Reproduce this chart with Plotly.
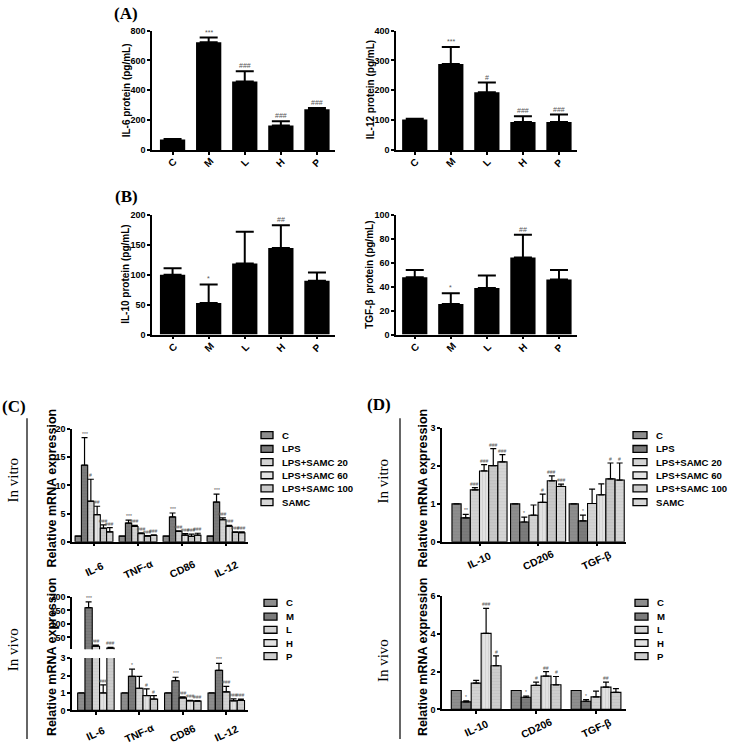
import plotly.graph_objects as go

W, H = 729, 744

# ---------------- data ----------------
prot_cats = ["C", "M", "L", "H", "P"]

il6_mean = [71, 723, 460, 164, 274]
il6_err = [3, 31, 68, 28, 7]
il6_sig = ["", "***", "###", "###", "###"]

il12_mean = [102, 288, 194, 94, 94]
il12_err = [3, 57, 32, 19, 25]
il12_sig = ["", "***", "#", "###", "###"]

il10_mean = [100, 53, 119, 145, 90]
il10_err = [11, 31, 53, 38, 14]
il10_sig = ["", "*", "", "##", ""]

tgfb_mean = [48, 25.5, 39, 64.5, 46]
tgfb_err = [6, 9, 10.5, 19, 8]
tgfb_sig = ["", "*", "", "##", ""]

vitro_groups = ["C", "LPS", "LPS+SAMC 20", "LPS+SAMC 60", "LPS+SAMC 100", "SAMC"]
vivo_groups = ["C", "M", "L", "H", "P"]

c_genes = ["IL-6", "TNF-α", "CD86", "IL-12"]
c_vitro_mean = [
    [1, 1, 1, 1],
    [13.6, 3.3, 4.4, 7.05],
    [7.2, 2.7, 1.85, 3.9],
    [4.8, 1.45, 1.15, 2.75],
    [2.4, 1.0, 0.95, 1.65],
    [1.75, 1.1, 1.15, 1.6],
]
c_vitro_err = [
    [0, 0, 0, 0],
    [4.9, 0.55, 0.7, 1.4],
    [3.9, 0.2, 0.08, 0.35],
    [1.5, 0.1, 0.3, 0.15],
    [0.6, 0.1, 0.4, 0.12],
    [0.75, 0.1, 0.35, 0.15],
]
c_vitro_sig = [
    ["", "", "", ""],
    ["***", "***", "***", "***"],
    ["#", "###", "###", "###"],
    ["##", "###", "###", "###"],
    ["###", "###", "###", "###"],
    ["###", "###", "###", "###"],
]

c_vivo_mean = [
    [1, 1, 1, 1],
    [160, 1.95, 1.7, 2.3],
    [17, 1.27, 0.72, 1.06],
    [1.0, 0.85, 0.55, 0.55],
    [10, 0.65, 0.53, 0.57],
]
c_vivo_err = [
    [0, 0, 0, 0],
    [22, 0.42, 0.2, 0.4],
    [4, 0.68, 0.06, 0.32],
    [0.46, 0.38, 0.03, 0.11],
    [3, 0.2, 0.03, 0.08],
]
c_vivo_sig = [
    ["", "", "", ""],
    ["***", "*", "***", "***"],
    ["###", "", "###", "###"],
    ["###", "#", "###", "###"],
    ["###", "#", "###", "###"],
]

d_genes = ["IL-10", "CD206", "TGF-β"]
d_vitro_mean = [
    [1, 1, 1],
    [0.63, 0.52, 0.55],
    [1.37, 0.7, 1.01],
    [1.87, 1.04, 1.24],
    [2.01, 1.61, 1.66],
    [2.11, 1.46, 1.63],
]
d_vitro_err = [
    [0, 0, 0],
    [0.09, 0.13, 0.15],
    [0.06, 0.27, 0.38],
    [0.17, 0.22, 0.29],
    [0.45, 0.13, 0.42],
    [0.19, 0.06, 0.45],
]
d_vitro_sig = [
    ["", "", ""],
    ["**", "*", "*"],
    ["###", "", ""],
    ["###", "#", ""],
    ["###", "###", "#"],
    ["###", "###", "#"],
]

d_vivo_mean = [
    [1, 1, 1],
    [0.4, 0.64, 0.43],
    [1.39, 1.27, 0.66],
    [4.02, 1.76, 1.18],
    [2.31, 1.3, 0.9],
]
d_vivo_err = [
    [0, 0, 0],
    [0.05, 0.07, 0.09],
    [0.14, 0.17, 0.31],
    [1.32, 0.24, 0.26],
    [0.52, 0.44, 0.2],
]
d_vivo_sig = [
    ["", "", ""],
    ["*", "*", "*"],
    ["", "#", ""],
    ["###", "##", "##"],
    ["#", "#", ""],
]

BREAK = 6  # lower limit of the upper segment of the broken in-vivo axis (panel C)

# ---------------- helpers ----------------
def dx(a, b):
    return [a / W, b / W]

def dy(top, bot):
    return [1 - bot / H, 1 - top / H]

def px(x):
    return x / W

def py(y):
    return 1 - y / H

FONT = "Liberation Sans"
SERIF = "Liberation Serif"
SIGCOL = "#555555"

fig = go.Figure()
annotations = []
shapes = []

def axis_common(size=10):
    return dict(showline=True, linecolor="black", linewidth=1.5, ticks="outside",
                ticklen=3, tickwidth=1.5, tickcolor="black", showgrid=False,
                zeroline=False, tickfont=dict(family=FONT, size=size, color="black", weight="bold"))

def ptext(x, y, text, font, angle=0, xanchor="center"):
    annotations.append(dict(x=px(x), y=py(y), xref="paper", yref="paper", text=text,
                            textangle=angle, showarrow=False, xanchor=xanchor,
                            yanchor="middle", font=font))

layout_axes = {}

# ---------------- protein panels (A, B) ----------------
prot_panels = [
    (il6_mean, il6_err, il6_sig, "IL-6 protein (pg/mL)", 1, (152, 335), (26, 147), 800, 200, -0.57, 126, 160),
    (il12_mean, il12_err, il12_sig, "IL-12 protein (pg/mL)", 2, (396, 577), (26, 147), 400, 100, -0.52, 370, 160),
    (il10_mean, il10_err, il10_sig, "IL-10 protein (pg/mL)", 3, (152, 335), (213, 334), 200, 50, -0.57, 126, 347),
    (tgfb_mean, tgfb_err, tgfb_sig, "TGF-β  protein (pg/mL)", 4, (396, 577), (213, 334), 100, 20, -0.52, 370, 347),
]
for mean, err, sig, title, n, xd, yd, ymax, dt, x0, tx, ly in prot_panels:
    xs = list(range(len(prot_cats)))
    fig.add_trace(go.Bar(
        x=xs, y=mean, width=0.7, marker=dict(color="black", line=dict(width=0)),
        error_y=dict(type="data", array=err, arrayminus=[0] * len(err), symmetric=False,
                     color="black", thickness=2, width=9),
        xaxis=f"x{n}", yaxis=f"y{n}", showlegend=False, hoverinfo="skip"))
    xa = axis_common(9)
    xa.update(domain=dx(*xd), range=[x0, 4.5], tickvals=xs, showticklabels=False,
              anchor=f"y{n}")
    ya = axis_common(9)
    ya.update(domain=dy(*yd), range=[0, ymax], dtick=dt, anchor=f"x{n}")
    layout_axes[f"xaxis{n}"] = xa
    layout_axes[f"yaxis{n}"] = ya
    for i, c in enumerate(prot_cats):
        annotations.append(dict(x=i, xref=f"x{n}", y=py(ly), yref="paper", text=c,
                                textangle=-45, showarrow=False, xanchor="center",
                                yanchor="middle",
                                font=dict(family=FONT, size=10, color="black", weight="bold")))
        if sig[i]:
            annotations.append(dict(x=i, xref=f"x{n}", y=mean[i] + err[i], yref=f"y{n}",
                                    text=sig[i], showarrow=False, xanchor="center",
                                    yanchor="bottom", yshift=0,
                                    font=dict(family=FONT, size=7, color=SIGCOL)))
    ptext(tx, (yd[0] + yd[1]) / 2, title,
          dict(family=FONT, size=10, color="black", weight="bold"), angle=-90)

# ---------------- mRNA panels (C, D) ----------------
vitro_fill = ["#8e8e8e", "#7c7c7c", "#d3d3d3", "#e2e2e2", "#c9c9c9", "#d6d6d6"]
vitro_fg = ["#7a7a7a", "#6a6a6a", "#bdbdbd", "#b8b8b8", "#b3b3b3", "#c0c0c0"]
vitro_shape = ["-", "-", "-", "|", "-", "-"]
vivo_fill = ["#8e8e8e", "#7c7c7c", "#d3d3d3", "#e2e2e2", "#cdcdcd"]
vivo_fg = ["#7a7a7a", "#6a6a6a", "#bdbdbd", "#b8b8b8", "#b8b8b8"]
vivo_shape = ["-", "-", "-", "|", "-"]


def add_group_bars(means, errs, sigs, fills, fgs, shapes_p, gw, xaxis, yaxes, cap=3):
    ns = len(means)
    bw = gw / ns
    for i in range(ns):
        off = -gw / 2 + (i + 0.5) * bw
        xs = [k + off for k in range(len(means[i]))]
        for j, ya in enumerate(yaxes):
            if j == 0:
                yv, ev = means[i], errs[i]
            else:  # upper segment of a broken axis: only bars reaching above the break
                yv = [v if v > BREAK else None for v in means[i]]
                ev = [e if v > BREAK else 0 for v, e in zip(means[i], errs[i])]
            fig.add_trace(go.Bar(
                x=xs, y=yv, width=bw,
                marker=dict(color=fills[i], line=dict(color="black", width=1.1),
                            pattern=dict(shape=shapes_p[i], fgcolor=fgs[i], size=3, solidity=0.25)),
                error_y=dict(type="data", array=ev, arrayminus=[0] * len(ev),
                             symmetric=False, color="black", thickness=1.2, width=cap),
                xaxis=xaxis, yaxis=ya, showlegend=False, hoverinfo="skip"))
        for k, s in enumerate(sigs[i]):
            if s:
                top = means[i][k] + errs[i][k]
                ya = yaxes[0]
                if len(yaxes) > 1 and top > BREAK:
                    ya = yaxes[1]
                annotations.append(dict(x=xs[k], xref=xaxis, y=top, yref=ya, text=s,
                                        showarrow=False, xanchor="center", yanchor="bottom",
                                        yshift=-1,
                                        font=dict(family=FONT, size=5, color=SIGCOL)))


# C in vitro
add_group_bars(c_vitro_mean, c_vitro_err, c_vitro_sig, vitro_fill, vitro_fg, vitro_shape,
               0.86, "x5", ["y5"])
xa = axis_common(9)
xa.update(domain=dx(72, 248), range=[-0.5, 3.5], tickvals=list(range(4)),
          showticklabels=False, anchor="y5")
ya = axis_common(9)
ya.update(domain=dy(430, 544), range=[0, 20], dtick=5, anchor="x5")
layout_axes["xaxis5"] = xa
layout_axes["yaxis5"] = ya

# C in vivo (broken axis)
add_group_bars(c_vivo_mean, c_vivo_err, c_vivo_sig, vivo_fill, vivo_fg, vivo_shape,
               0.84, "x6", ["y6", "y7"])
xa = axis_common(9)
xa.update(domain=dx(72, 248), range=[-0.55, 3.5], tickvals=list(range(4)),
          showticklabels=False, anchor="y6")
ya = axis_common(9)
ya.update(domain=dy(662, 715), range=[0, 3], dtick=1, anchor="x6")
ya7 = axis_common(9)
ya7.update(domain=dy(600, 653), range=[BREAK, 200], tickvals=[50, 100, 150, 200], anchor="x6")
layout_axes["xaxis6"] = xa
layout_axes["yaxis6"] = ya
layout_axes["yaxis7"] = ya7

# D in vitro
add_group_bars(d_vitro_mean, d_vitro_err, d_vitro_sig, vitro_fill, vitro_fg, vitro_shape,
               0.94, "x8", ["y8"])
xa = axis_common(9)
xa.update(domain=dx(442, 626), range=[-0.64, 2.5], tickvals=list(range(3)),
          showticklabels=False, anchor="y8")
ya = axis_common(9)
ya.update(domain=dy(429, 544), range=[0, 3], dtick=1, anchor="x8")
layout_axes["xaxis8"] = xa
layout_axes["yaxis8"] = ya

# D in vivo
add_group_bars(d_vivo_mean, d_vivo_err, d_vivo_sig, vivo_fill, vivo_fg, vivo_shape,
               0.83, "x9", ["y9"])
xa = axis_common(9)
xa.update(domain=dx(442, 626), range=[-0.57, 2.5], tickvals=list(range(3)),
          showticklabels=False, anchor="y9")
ya = axis_common(9)
ya.update(domain=dy(599, 714), range=[0, 6], dtick=2, anchor="x9")
layout_axes["xaxis9"] = xa
layout_axes["yaxis9"] = ya

# category labels for C / D
lab_font = dict(family=FONT, size=10.5, color="black", weight="bold")
def cat_label(k, xref, y, g):
    annotations.append(dict(x=k, xref=xref, y=py(y), yref="paper", text=g, textangle=-25,
                            showarrow=False, xanchor="center", yanchor="middle", font=lab_font))
for k, g in enumerate(c_genes):
    cat_label(k, "x5", 572, g)
    cat_label(k, "x6", 738, g)
for k, g in enumerate(d_genes):
    cat_label(k, "x8", 563, g)
    cat_label(k, "x9", 733, g)

# y titles for C / D
ytf = dict(family=FONT, size=12.5, color="black", weight="bold")
for xt, yt in [(52, 490), (52, 661), (423, 490), (423, 661)]:
    ptext(xt, yt, "Relative mRNA expression", ytf, angle=-90)

# In vitro / In vivo side labels and separators
sidef = dict(family=SERIF, size=15, color="black")
for xt, yt, t in [(13, 482, "In vitro"), (13, 654, "In vivo"),
                  (383, 483, "In vitro"), (383, 665, "In vivo")]:
    ptext(xt, yt, t, sidef, angle=-90)
for xl in [27, 400]:
    shapes.append(dict(type="line", xref="paper", yref="paper", x0=px(xl), x1=px(xl),
                       y0=py(419), y1=py(744), line=dict(color="#333333", width=1.5)))

# panel labels
pf = dict(family=SERIF, size=17, color="black", weight="bold")
for xt, yt, t in [(126, 9, "(A)"), (126, 194, "(B)"), (14, 407, "(C)"), (379, 405, "(D)")]:
    ptext(xt, yt, t, pf)

# manual legends
legf = dict(family=FONT, size=9.6, color="black", weight="bold")
def add_legend(names, fills, sx0, sx1, tx, rows):
    for name, col, ry in zip(names, fills, rows):
        shapes.append(dict(type="rect", xref="paper", yref="paper", x0=px(sx0), x1=px(sx1),
                           y0=py(ry + 3.5), y1=py(ry - 3.5), fillcolor=col,
                           line=dict(color="black", width=1.3)))
        ptext(tx, ry, name, legf, xanchor="left")

vitro_rows = [436, 450, 463.3, 476.7, 490, 504]
vivo_rows = [606, 620, 633.3, 646.7, 660]
add_legend(vitro_groups, vitro_fill, 261, 273, 280, vitro_rows)
add_legend(vivo_groups, vivo_fill, 264, 277, 284, vivo_rows)
add_legend(vitro_groups, vitro_fill, 633, 647, 654, vitro_rows)
add_legend(vivo_groups, vivo_fill, 635, 648, 655, vivo_rows)

fig.update_layout(
    width=W, height=H, margin=dict(l=0, r=0, t=0, b=0),
    paper_bgcolor="white", plot_bgcolor="white", barmode="overlay", showlegend=False,
    annotations=annotations, shapes=shapes, **layout_axes)

fig.write_html("out.html", config={"displayModeBar": False},
               post_script="document.body.style.margin='0';")
